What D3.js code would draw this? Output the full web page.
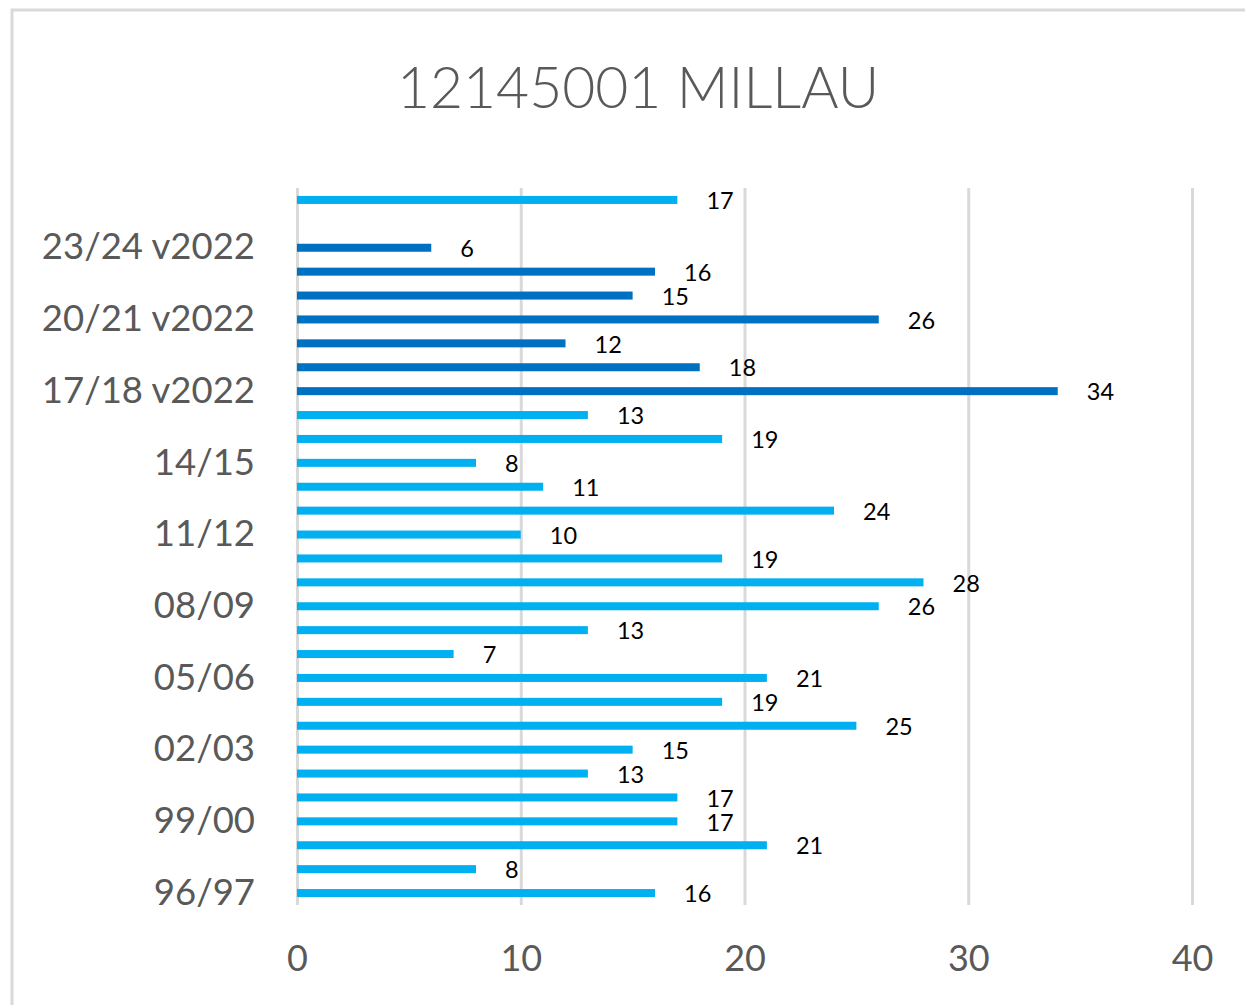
<!DOCTYPE html>
<html>
<head>
<meta charset="utf-8">
<script src="https://cdn.jsdelivr.net/npm/d3@7"></script>
<style>
  body { margin: 0; background: #fff; }
  text { font-family: Lato, "Open Sans", sans-serif; }
</style>
</head>
<body>
<svg id="chart" width="1245" height="1005"></svg>
<script>
"use strict";

// seasons, bottom to top (one empty slot, then the average on top)
var seasons = ["96/97", "97/98", "98/99", "99/00", "00/01", "01/02", "02/03", "03/04",
  "04/05", "05/06", "06/07", "07/08", "08/09", "09/10", "10/11", "11/12", "12/13",
  "13/14", "14/15", "15/16", "16/17", "17/18 v2022", "18/19 v2022", "19/20 v2022",
  "20/21 v2022", "21/22 v2022", "22/23 v2022", "23/24 v2022", "24/25", "Moyenne"];
var counts = [16, 8, 21, 17, 17, 13, 15, 25, 19, 21, 7, 13, 26, 28, 19, 10, 24,
  11, 8, 19, 13, 34, 18, 12, 26, 15, 16, 6, null, 17];
var shownSeasons = ["96/97", "99/00", "02/03", "05/06", "08/09", "11/12", "14/15",
  "17/18 v2022", "20/21 v2022", "23/24 v2022"];
var xTicks = [0, 10, 20, 30, 40];
var title = "12145001 MILLAU";

var data = seasons.map(function (s, i) { return { season: s, value: counts[i] }; })
  .filter(function (d) { return d.value !== null; });

var svg = d3.select("#chart");

// chart frame (only top and left edges are in view)
svg.append("rect")
  .attr("x", 12).attr("y", 10)
  .attr("width", 1260).attr("height", 1020)
  .attr("fill", "none")
  .attr("stroke", "#d9d9d9")
  .attr("stroke-width", 3);

var x = d3.scaleLinear().domain([0, 40]).range([297, 1192]);
var y = d3.scaleBand().domain(seasons).range([905, 188])
  .paddingInner(0.665).paddingOuter(0.3325);

// vertical gridlines
svg.append("g")
  .attr("transform", "translate(0,905)")
  .call(d3.axisBottom(x).tickValues(xTicks).tickSize(-717).tickFormat(""))
  .call(function (g) {
    g.select(".domain").remove();
    g.selectAll("line").attr("stroke", "#d9d9d9").attr("stroke-width", 3);
  });

// x tick labels
svg.append("g")
  .attr("transform", "translate(0,905)")
  .call(d3.axisBottom(x).tickValues(xTicks).tickSize(0).tickPadding(40))
  .call(function (g) {
    g.select(".domain").remove();
    g.selectAll("text")
      .attr("fill", "#595959")
      .attr("font-size", "36px")
      .attr("font-family", "Lato, sans-serif");
  });

// category labels
svg.append("g")
  .attr("transform", "translate(297,0)")
  .call(d3.axisLeft(y).tickValues(shownSeasons).tickSize(0).tickPadding(42))
  .call(function (g) {
    g.select(".domain").remove();
    g.selectAll("text")
      .attr("fill", "#595959")
      .attr("font-size", "36.5px")
      .attr("font-family", "Lato, sans-serif");
  });

// bars
svg.append("g").selectAll("rect")
  .data(data)
  .enter()
  .append("rect")
    .attr("x", x(0))
    .attr("y", function (d) { return y(d.season); })
    .attr("width", function (d) { return x(d.value) - x(0); })
    .attr("height", y.bandwidth())
    .attr("fill", function (d) {
      return d.season.indexOf("v2022") >= 0 ? "#0070C0" : "#00B0F0";
    });

// value labels
svg.append("g").selectAll("text")
  .data(data)
  .enter()
  .append("text")
    .attr("x", function (d) { return x(d.value) + 29; })
    .attr("y", function (d) { return y(d.season) + y.bandwidth() / 2 + 1; })
    .attr("dy", "0.35em")
    .attr("font-size", "23.5px")
    .attr("fill", "#000")
    .text(function (d) { return d.value; });

// title
svg.append("text")
  .attr("x", 638)
  .attr("y", 108)
  .attr("text-anchor", "middle")
  .attr("font-size", "57px")
  .attr("font-weight", 300)
  .attr("fill", "#595959")
  .text(title);
</script>
</body>
</html>
